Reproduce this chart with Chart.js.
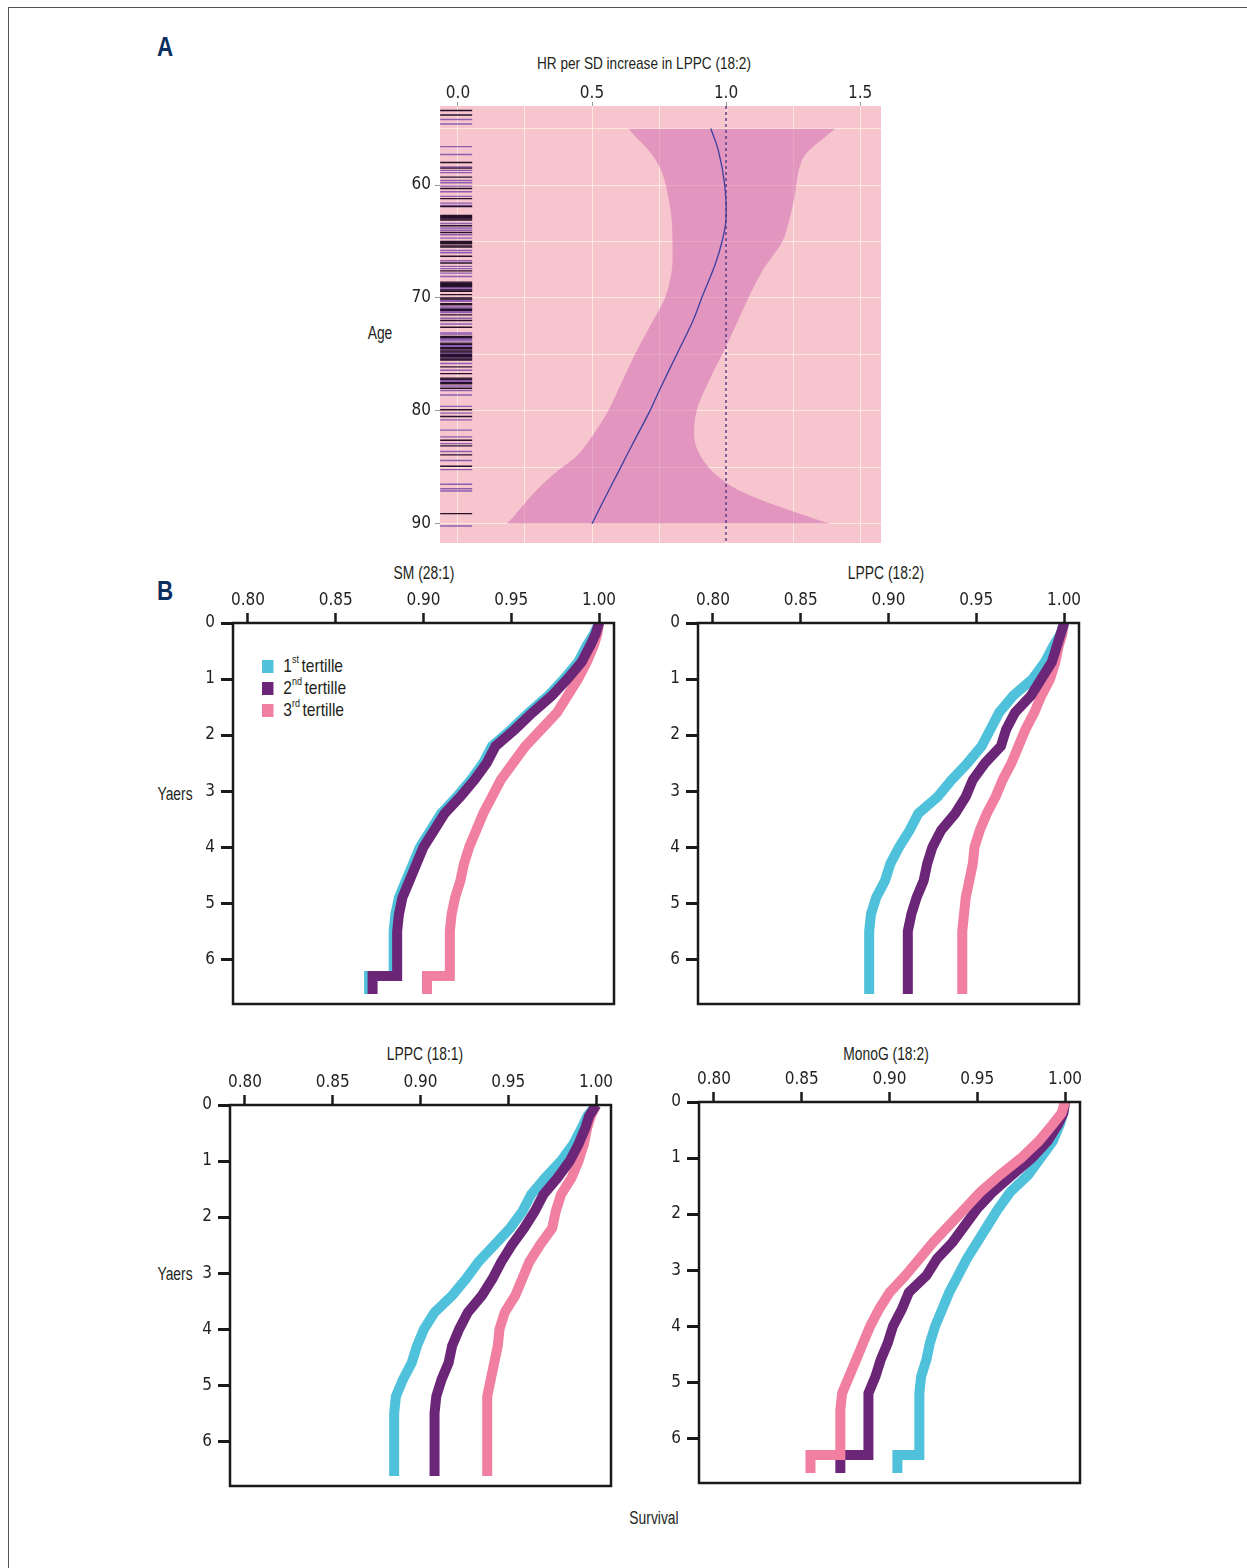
<!DOCTYPE html>
<html>
<head>
<meta charset="utf-8">
<script src="https://cdn.jsdelivr.net/npm/chart.js@4.4.1/dist/chart.umd.min.js"></script>
<style>
  html,body{margin:0;padding:0;background:#fff;}
  body{width:1247px;height:1568px;position:relative;overflow:hidden;
       font-family:"Liberation Sans",Arial,sans-serif;color:#231f20;}
  .frame{position:absolute;left:8px;top:7px;right:-2px;bottom:-2px;border-top:1.5px solid #555;border-left:1.5px solid #555;}
  canvas{position:absolute;}
  .t{position:absolute;white-space:nowrap;transform:translate(-50%,-50%) scaleX(0.77);font-size:18px;line-height:1;}
  .lab{position:absolute;white-space:nowrap;transform:translate(-50%,-50%) scaleX(0.8);font-weight:bold;font-size:28px;line-height:1;color:#0b2f5f;}
  .leg{position:absolute;left:262px;font-size:19px;line-height:1;white-space:nowrap;transform:scaleX(0.82);transform-origin:0 50%;}
  .leg i{display:inline-block;width:14px;height:13px;margin-right:12px;vertical-align:-1px;}
  .leg sup{font-size:11px;position:relative;top:-2px;margin-right:3px;}
</style>
</head>
<body>
<div class="frame"></div>

<div class="lab" style="left:165px;top:47px;">A</div>
<div class="lab" style="left:165px;top:591px;">B</div>

<div class="t" style="left:644px;top:63px;font-size:17px;transform:translate(-50%,-50%) scaleX(0.8);">HR per SD increase in LPPC (18:2)</div>
<div class="t" style="left:380px;top:333px;">Age</div>

<div class="t" style="left:424px;top:573px;">SM (28:1)</div>
<div class="t" style="left:886px;top:573px;">LPPC (18:2)</div>
<div class="t" style="left:425px;top:1054px;">LPPC (18:1)</div>
<div class="t" style="left:886px;top:1054px;">MonoG (18:2)</div>
<div class="t" style="left:175px;top:794px;">Yaers</div>
<div class="t" style="left:175px;top:1274px;">Yaers</div>
<div class="t" style="left:654px;top:1518px;">Survival</div>

<div class="leg" style="top:656px;"><i style="background:#4fc1da"></i>1<sup>st</sup>tertille</div>
<div class="leg" style="top:678px;"><i style="background:#6c2677"></i>2<sup>nd</sup>tertille</div>
<div class="leg" style="top:700px;"><i style="background:#f07fa2"></i>3<sup>rd</sup>tertille</div>

<canvas id="cA" width="561" height="491" style="left:340px;top:76px;"></canvas>
<canvas id="cTL" width="451" height="450" style="left:183px;top:578px;"></canvas>
<canvas id="cTR" width="451" height="450" style="left:648px;top:578px;"></canvas>
<canvas id="cBL" width="451" height="450" style="left:180px;top:1060px;"></canvas>
<canvas id="cBR" width="451" height="450" style="left:649px;top:1057px;"></canvas>

<script>
// ---------------- Panel A data ----------------
const hrAges   = [55, 57, 60, 63, 65, 67, 70, 72, 75, 78, 80, 83, 85, 88, 90];
const hrValues = [0.943, 0.972, 0.995, 1.0, 0.985, 0.96, 0.909, 0.877, 0.816, 0.755, 0.716, 0.65, 0.607, 0.542, 0.50];

const bandAges  = [55, 55.7, 56.5, 57.5, 59, 61, 63, 65, 67.5, 70, 72.5, 75, 77.5, 80, 82.5, 84, 85.5, 87, 88.5, 89.3, 90];
const bandLower = [0.636, 0.662, 0.695, 0.73, 0.763, 0.784, 0.797, 0.80, 0.798, 0.772, 0.716, 0.66, 0.61, 0.56, 0.493, 0.443, 0.362, 0.294, 0.238, 0.21, 0.182];
const bandUpper = [1.407, 1.372, 1.33, 1.29, 1.268, 1.256, 1.237, 1.21, 1.138, 1.083, 1.035, 0.985, 0.933, 0.89, 0.882, 0.905, 0.955, 1.045, 1.20, 1.30, 1.388];

const rugAgesDark = [53.4, 53.8, 58.0, 58.5, 59.3, 60.3, 61.2, 61.9, 62.7, 62.8, 62.9, 63.0, 63.1, 63.6, 64.2, 65.0, 65.1, 65.2, 65.4, 65.5, 66.3, 66.9, 67.6, 68.6, 68.7, 68.8, 68.9, 69.0, 69.3, 69.4, 69.7, 70.0, 70.1, 70.5, 70.6, 71.0, 71.1, 71.5, 72.0, 72.6, 73.4, 73.5, 74.0, 74.1, 74.4, 74.5, 74.7, 74.8, 75.0, 75.1, 75.2, 75.4, 75.5, 76.1, 76.7, 77.1, 77.2, 77.5, 77.6, 78.0, 79.9, 80.5, 82.6, 83.1, 83.9, 84.9, 89.1];
const rugAgesLight = [54.2, 54.6, 56.6, 57.3, 58.4, 58.7, 58.9, 59.6, 59.8, 60.1, 60.6, 61.0, 61.6, 61.8, 63.4, 63.8, 64.0, 64.4, 64.7, 65.8, 66.0, 66.7, 67.2, 67.4, 67.8, 68.1, 69.1, 69.2, 70.2, 70.3, 70.8, 70.9, 71.2, 71.3, 71.8, 72.3, 73.1, 73.2, 73.6, 73.7, 73.8, 74.2, 74.3, 74.6, 74.9, 75.3, 75.8, 76.4, 77.3, 77.4, 77.8, 78.2, 78.6, 79.6, 80.2, 80.8, 81.7, 82.3, 82.9, 83.6, 84.4, 85.2, 86.5, 86.9, 87.1, 90.2];
const rugHR = -0.0067;   // rug drawn at the left edge of the HR axis
const refHR = 1.0;       // reference line

const hrTicks  = [0.0, 0.5, 1.0, 1.5];
const ageTicks = [60, 70, 80, 90];

// ---------------- Panel B data ----------------
const yearsGrid = [0, 0.2, 0.4, 0.7, 1.0, 1.3, 1.6, 1.9, 2.2, 2.5, 2.8, 3.1, 3.4, 3.7, 4.0, 4.3, 4.6, 4.9, 5.2, 5.5, 5.8, 6.1, 6.3, 6.3, 6.62];

const smT1 = [1.0, 0.997, 0.993, 0.988, 0.980, 0.971, 0.960, 0.950, 0.939, 0.934, 0.927, 0.919, 0.910, 0.904, 0.898, 0.894, 0.890, 0.886, 0.884, 0.883, 0.883, 0.883, 0.883, 0.869, 0.869];
const smT2 = [1.0, 0.998, 0.995, 0.990, 0.982, 0.973, 0.962, 0.952, 0.941, 0.936, 0.929, 0.921, 0.912, 0.906, 0.900, 0.896, 0.892, 0.888, 0.886, 0.885, 0.885, 0.885, 0.885, 0.871, 0.871];
const smT3 = [1.0, 0.999, 0.997, 0.993, 0.988, 0.982, 0.976, 0.967, 0.958, 0.951, 0.944, 0.939, 0.934, 0.930, 0.926, 0.923, 0.921, 0.918, 0.916, 0.915, 0.915, 0.915, 0.915, 0.902, 0.902];

const lppc182T1 = [1.0, 0.998, 0.994, 0.989, 0.982, 0.971, 0.963, 0.958, 0.953, 0.945, 0.936, 0.928, 0.917, 0.912, 0.906, 0.901, 0.898, 0.893, 0.890, 0.889, 0.889, 0.889, 0.889, 0.889, 0.889];
const lppc182T2 = [1.0, 0.998, 0.996, 0.993, 0.987, 0.981, 0.972, 0.967, 0.964, 0.955, 0.948, 0.944, 0.938, 0.930, 0.925, 0.922, 0.920, 0.916, 0.913, 0.911, 0.911, 0.911, 0.911, 0.911, 0.911];
const lppc182T3 = [1.0, 0.999, 0.997, 0.995, 0.992, 0.987, 0.983, 0.978, 0.974, 0.970, 0.965, 0.961, 0.956, 0.952, 0.949, 0.948, 0.946, 0.944, 0.943, 0.942, 0.942, 0.942, 0.942, 0.942, 0.942];

const lppc181T1 = [1.0, 0.995, 0.992, 0.987, 0.980, 0.971, 0.963, 0.958, 0.951, 0.942, 0.933, 0.926, 0.918, 0.908, 0.902, 0.898, 0.895, 0.890, 0.886, 0.885, 0.885, 0.885, 0.885, 0.885, 0.885];
const lppc181T2 = [1.0, 0.996, 0.994, 0.990, 0.985, 0.978, 0.970, 0.965, 0.959, 0.952, 0.946, 0.941, 0.935, 0.927, 0.922, 0.918, 0.916, 0.912, 0.909, 0.908, 0.908, 0.908, 0.908, 0.908, 0.908];
const lppc181T3 = [1.0, 0.997, 0.995, 0.993, 0.990, 0.986, 0.980, 0.977, 0.975, 0.968, 0.962, 0.958, 0.954, 0.948, 0.945, 0.944, 0.942, 0.940, 0.938, 0.938, 0.938, 0.938, 0.938, 0.938, 0.938];

const monogT1 = [1.0, 0.999, 0.997, 0.993, 0.986, 0.979, 0.969, 0.962, 0.956, 0.950, 0.944, 0.939, 0.934, 0.930, 0.926, 0.923, 0.921, 0.918, 0.917, 0.917, 0.917, 0.917, 0.917, 0.9045, 0.9045];
const monogT2 = [1.0, 0.999, 0.996, 0.990, 0.981, 0.970, 0.959, 0.950, 0.943, 0.936, 0.927, 0.921, 0.911, 0.907, 0.902, 0.899, 0.895, 0.892, 0.888, 0.888, 0.888, 0.888, 0.888, 0.872, 0.872];
const monogT3 = [1.0, 0.998, 0.993, 0.985, 0.975, 0.963, 0.952, 0.943, 0.934, 0.925, 0.917, 0.909, 0.900, 0.894, 0.889, 0.885, 0.881, 0.877, 0.873, 0.872, 0.872, 0.872, 0.872, 0.855, 0.855];

const survTicks = [0.80, 0.85, 0.90, 0.95, 1.00];
const yearTicks = [0, 1, 2, 3, 4, 5, 6];

// ---------------- styling ----------------
const FONT = '"DejaVu Sans Condensed","Liberation Sans",sans-serif';
Chart.defaults.font.family = FONT;
Chart.defaults.color = '#231f20';

const CYAN = '#4fc1da', PURPLE = '#6c2677', PINK = '#f07fa2';
const near = (v, arr) => arr.some(a => Math.abs(a - v) < 1e-6);

// ---------------- Panel A ----------------
const bgPlugin = {
  id: 'bgA',
  beforeDraw(chart) {
    const {ctx, chartArea: a} = chart;
    ctx.save();
    ctx.fillStyle = '#f7c5ce';
    ctx.fillRect(a.left, a.top, a.right - a.left, a.bottom - a.top);
    ctx.restore();
  }
};
const refPlugin = {
  id: 'refA',
  afterDatasetsDraw(chart) {
    const {ctx, chartArea: a, scales} = chart;
    const px = scales.x.getPixelForValue(refHR);
    ctx.save();
    ctx.strokeStyle = '#5b3a86';
    ctx.lineWidth = 1.5;
    ctx.setLineDash([3, 3]);
    ctx.beginPath();
    ctx.moveTo(px, a.top);
    ctx.lineTo(px, a.bottom);
    ctx.stroke();
    ctx.restore();
  }
};

const xy = (xs, ys) => xs.map((v, i) => ({x: v, y: ys[i]}));

new Chart(document.getElementById('cA'), {
  type: 'line',
  data: {
    datasets: [
      { label: 'HR', data: xy(hrValues, hrAges), borderColor: '#3b3f9f', borderWidth: 1.3, tension: 0.4, pointRadius: 0, fill: false, order: 0 },
      { label: 'rugDark', data: rugAgesDark.map(a => ({x: rugHR, y: a})), showLine: false, pointStyle: 'line', pointRadius: 16, pointBorderColor: '#26102a', pointBorderWidth: 1.4, order: 1 },
      { label: 'rugLight', data: rugAgesLight.map(a => ({x: rugHR, y: a})), showLine: false, pointStyle: 'line', pointRadius: 16, pointBorderColor: '#8d5fae', pointBorderWidth: 1.4, order: 2 },
      { label: 'lower', data: xy(bandLower, bandAges), borderWidth: 0, borderColor: 'rgba(0,0,0,0)', tension: 0.3, pointRadius: 0, fill: false, order: 4 },
      { label: 'upper', data: xy(bandUpper, bandAges), borderWidth: 0, borderColor: 'rgba(0,0,0,0)', tension: 0.3, pointRadius: 0, fill: '-1', backgroundColor: 'rgba(205,101,176,0.5)', order: 3 }
    ]
  },
  options: {
    indexAxis: 'y',
    responsive: false, animation: false, devicePixelRatio: 1,
    layout: { padding: { top: 0, left: 0, right: 20, bottom: 24 } },
    plugins: { legend: { display: false }, tooltip: { enabled: false } },
    events: [],
    scales: {
      x: {
        type: 'linear', position: 'top', min: -0.067, max: 1.578,
        afterFit(s) { s.height = 30; },
        ticks: { stepSize: 0.25, includeBounds: false, padding: 0, autoSkip: false, maxRotation: 0,
                 font: { size: 17, lineHeight: 1 }, color: '#231f20',
                 callback: v => near(v, hrTicks) ? v.toFixed(1) : '' },
        grid: { drawOnChartArea: true, color: 'rgba(255,238,222,0.85)', lineWidth: 1,
                tickLength: 4, tickColor: c => (c.tick && near(c.tick.value, hrTicks)) ? '#999' : 'rgba(0,0,0,0)' },
        border: { display: false }
      },
      y: {
        type: 'linear', position: 'left', reverse: true, min: 53, max: 91.7,
        afterFit(s) { s.width = 100; },
        ticks: { stepSize: 5, includeBounds: false, padding: 4, autoSkip: false,
                 font: { size: 17 }, color: '#231f20',
                 callback: v => near(v, ageTicks) ? String(v) : '' },
        grid: { drawOnChartArea: true, color: 'rgba(255,238,222,0.85)', lineWidth: 1,
                tickLength: 5, tickColor: c => (c.tick && near(c.tick.value, ageTicks)) ? '#999' : 'rgba(0,0,0,0)' },
        border: { display: false }
      }
    }
  },
  plugins: [bgPlugin, refPlugin]
});

// ---------------- Panel B ----------------
const boxPlugin = {
  id: 'boxB',
  afterDraw(chart) {
    const {ctx, chartArea: a} = chart;
    ctx.save();
    ctx.strokeStyle = '#1a1a1a';
    ctx.lineWidth = 2.5;
    ctx.strokeRect(a.left, a.top, a.right - a.left, a.bottom - a.top);
    ctx.restore();
  }
};

function survChart(id, t1, t2, t3, orders) {
  const mk = (label, surv, color, order) => ({
    label, data: xy(surv, yearsGrid), borderColor: color, borderWidth: 10,
    borderJoinStyle: 'miter', tension: 0, pointRadius: 0, fill: false, order
  });
  return new Chart(document.getElementById(id), {
    type: 'line',
    data: { datasets: [
      mk('1st tertille', t1, CYAN, orders[0]),
      mk('2nd tertille', t2, PURPLE, orders[1]),
      mk('3rd tertille', t3, PINK, orders[2])
    ]},
    options: {
      indexAxis: 'y',
      responsive: false, animation: false, devicePixelRatio: 1,
      layout: { padding: { top: 0, left: 0, right: 20, bottom: 24 } },
      plugins: { legend: { display: false }, tooltip: { enabled: false } },
      events: [],
      scales: {
        x: {
          type: 'linear', position: 'top', min: 0.7915, max: 1.0085,
          afterFit(s) { s.height = 45; },
          ticks: { stepSize: 0.05, includeBounds: false, padding: 2, autoSkip: false, maxRotation: 0,
                   font: { size: 17 }, color: '#231f20',
                   callback: v => near(v, survTicks) ? v.toFixed(2) : '' },
          grid: { drawOnChartArea: false, drawTicks: true, tickLength: 10, tickWidth: 2.5, tickColor: '#1a1a1a' },
          border: { display: false }
        },
        y: {
          type: 'linear', position: 'left', reverse: true, min: 0, max: 6.8,
          afterFit(s) { s.width = 50; },
          ticks: { stepSize: 1, includeBounds: false, padding: 6, autoSkip: false,
                   font: { size: 17 }, color: '#231f20',
                   callback: v => near(v, yearTicks) ? String(v) : '' },
          grid: { drawOnChartArea: false, drawTicks: true, tickLength: 12, tickWidth: 3, tickColor: '#1a1a1a' },
          border: { display: false }
        }
      }
    },
    plugins: [boxPlugin]
  });
}

survChart('cTL', smT1, smT2, smT3, [1, 0, 2]);
survChart('cTR', lppc182T1, lppc182T2, lppc182T3, [1, 0, 2]);
survChart('cBL', lppc181T1, lppc181T2, lppc181T3, [1, 0, 2]);
survChart('cBR', monogT1, monogT2, monogT3, [2, 1, 0]);
</script>
</body>
</html>
